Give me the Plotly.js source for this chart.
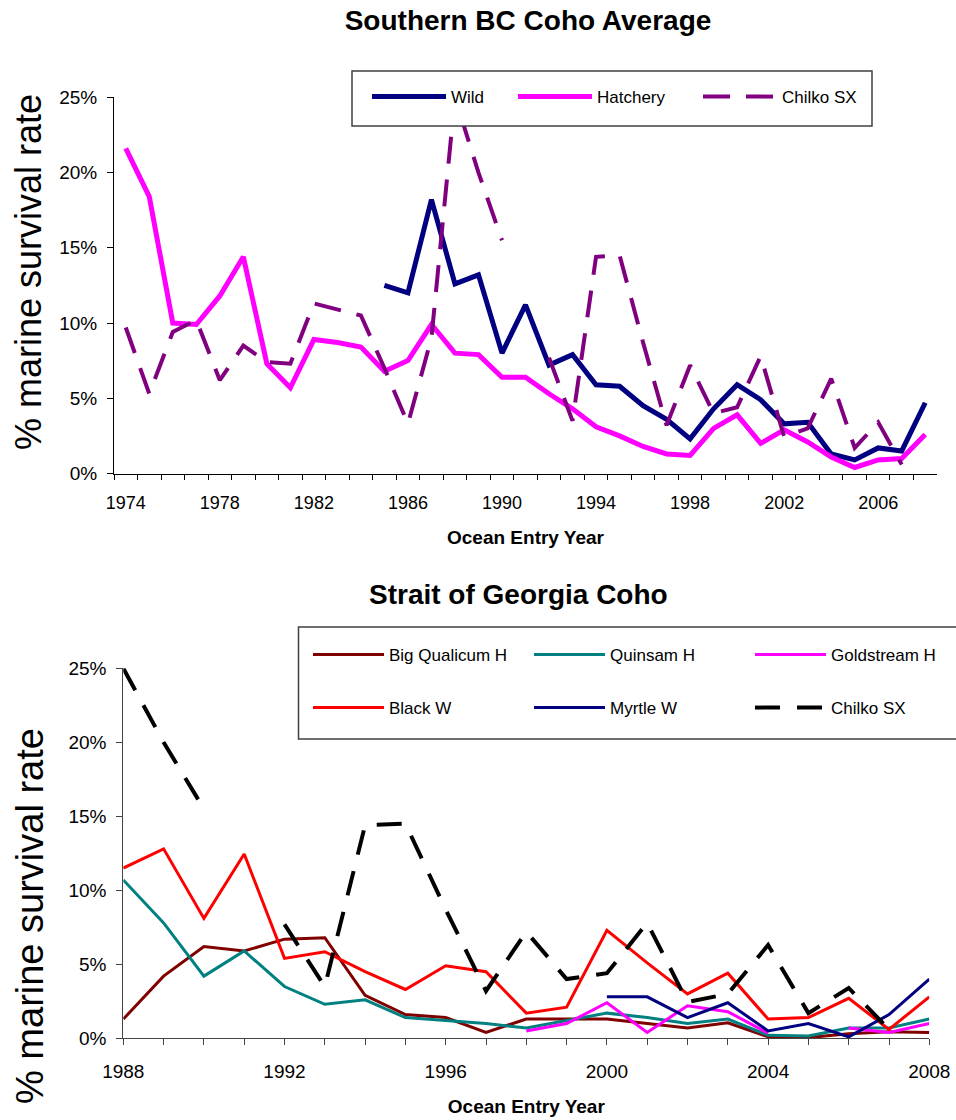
<!DOCTYPE html>
<html>
<head>
<meta charset="utf-8">
<script src="https://cdn.plot.ly/plotly-3.0.1.min.js"></script>
<style>
html, body { margin: 0; padding: 0; background: #ffffff; }
#chart { width: 956px; height: 1120px; }
</style>
</head>
<body>
<div id="chart"></div>
<script>
// ---------- Data: Southern BC Coho Average ----------
const yearsTop = [1974, 1975, 1976, 1977, 1978, 1979, 1980, 1981, 1982, 1983, 1984,
  1985, 1986, 1987, 1988, 1989, 1990, 1991, 1992, 1993, 1994, 1995, 1996, 1997,
  1998, 1999, 2000, 2001, 2002, 2003, 2004, 2005, 2006, 2007, 2008];
const wild = [null, null, null, null, null, null, null, null, null, null, null,
  12.5, 12.0, 18.2, 12.6, 13.2, 8.0, 11.2, 7.2, 7.9, 5.9, 5.8, 4.5, 3.6,
  2.3, 4.3, 5.9, 4.9, 3.3, 3.4, 1.3, 0.9, 1.7, 1.5, 4.7];
const hatchery = [21.6, 18.4, 10.0, 9.9, 11.8, 14.4, 7.3, 5.7, 8.9, 8.7, 8.4,
  6.8, 7.5, 9.9, 8.0, 7.9, 6.4, 6.4, 5.3, 4.3, 3.1, 2.5, 1.8, 1.3,
  1.2, 3.0, 3.9, 2.0, 2.9, 2.1, 1.1, 0.4, 0.9, 1.0, 2.6];
const chilkoSX = [9.7, 5.3, 9.4, 10.2, 6.2, 8.5, 7.4, 7.3, 11.3, 10.9, 10.5,
  7.0, 3.3, 9.0, 25.0, 20.0, 15.5, null, 7.7, 3.5, 14.4, 14.5, 8.7, 3.2,
  7.2, 4.0, 4.4, 7.8, 2.45, 3.0, 6.3, 1.7, 3.4, 0.6, null];
const topTickYears = [1974, 1978, 1982, 1986, 1990, 1994, 1998, 2002, 2006];

// ---------- Data: Strait of Georgia Coho ----------
const yearsBottom = [1988, 1989, 1990, 1991, 1992, 1993, 1994, 1995, 1996, 1997,
  1998, 1999, 2000, 2001, 2002, 2003, 2004, 2005, 2006, 2007, 2008];
const bigQualicumH = [1.3, 4.2, 6.2, 5.9, 6.7, 6.8, 2.9, 1.6, 1.4, 0.4,
  1.3, 1.3, 1.3, 1.0, 0.7, 1.05, 0.1, 0.05, 0.3, 0.45, 0.4];
const quinsamH = [10.7, 7.8, 4.2, 5.9, 3.5, 2.3, 2.6, 1.4, 1.2, 1.0,
  0.7, 1.2, 1.7, 1.4, 1.0, 1.3, 0.2, 0.15, 0.7, 0.7, 1.3];
const goldstreamH = [null, null, null, null, null, null, null, null, null, null,
  0.5, 1.0, 2.4, 0.4, 2.2, 1.8, 0.35, null, 0.7, 0.4, 1.0];
const blackW = [11.5, 12.8, 8.1, 12.45, 5.4, 5.85, 4.5, 3.3, 4.9, 4.5,
  1.7, 2.1, 7.3, 5.1, 3.0, 4.4, 1.3, 1.4, 2.7, 0.6, 2.8];
const myrtleW = [null, null, null, null, null, null, null, null, null, null,
  null, null, 2.8, 2.8, 1.4, 2.4, 0.5, 1.0, 0.1, 1.6, 4.0];
const chilkoSXBottom = [25.0, 20.0, 15.5, null, 7.7, 3.5, 14.4, 14.5, 8.7, 3.2,
  7.2, 4.0, 4.4, 7.8, 2.45, 3.0, 6.3, 1.7, 3.4, 0.6, null];
const bottomTickYears = [1988, 1992, 1996, 2000, 2004, 2008];
const pctTicks = [0, 5, 10, 15, 20, 25];

// ---------- Layout helpers (pixel -> paper) ----------
const W = 956, H = 1120;
const px = v => v / W;
const py = v => 1 - v / H;
const FONT = 'Liberation Sans, Arial, Helvetica, sans-serif';

// Top axis is a category axis (Excel style: ticks between categories)
const topCats = yearsTop.map(String);
const topCatText = yearsTop.map(y => topTickYears.includes(y) ? String(y) : '');

const traces = [
  { x: topCats, y: wild, name: 'Wild', type: 'scatter', mode: 'lines',
    xaxis: 'x', yaxis: 'y', legend: 'legend', legendwidth: 57,
    line: { color: '#000080', width: 5 } },
  { x: topCats, y: hatchery, name: 'Hatchery', type: 'scatter', mode: 'lines',
    xaxis: 'x', yaxis: 'y', legend: 'legend', legendwidth: 96,
    line: { color: '#FF00FF', width: 5 } },
  { x: topCats, y: chilkoSX, name: 'Chilko SX', type: 'scatter', mode: 'lines',
    xaxis: 'x', yaxis: 'y', legend: 'legend', legendwidth: 80,
    line: { color: '#800080', width: 4, dash: '27px,16px' } },

  { x: yearsBottom, y: bigQualicumH, name: 'Big Qualicum H', type: 'scatter', mode: 'lines',
    xaxis: 'x2', yaxis: 'y2', legend: 'legend2',
    line: { color: '#800000', width: 3 } },
  { x: yearsBottom, y: quinsamH, name: 'Quinsam H', type: 'scatter', mode: 'lines',
    xaxis: 'x2', yaxis: 'y2', legend: 'legend2',
    line: { color: '#008080', width: 3 } },
  { x: yearsBottom, y: goldstreamH, name: 'Goldstream H', type: 'scatter', mode: 'lines',
    xaxis: 'x2', yaxis: 'y2', legend: 'legend2', legendwidth: 105,
    line: { color: '#FF00FF', width: 3 } },
  { x: yearsBottom, y: blackW, name: 'Black W', type: 'scatter', mode: 'lines',
    xaxis: 'x2', yaxis: 'y2', legend: 'legend3',
    line: { color: '#FF0000', width: 3 } },
  { x: yearsBottom, y: myrtleW, name: 'Myrtle W', type: 'scatter', mode: 'lines',
    xaxis: 'x2', yaxis: 'y2', legend: 'legend3',
    line: { color: '#000080', width: 3 } },
  { x: yearsBottom, y: chilkoSXBottom, name: 'Chilko SX', type: 'scatter', mode: 'lines',
    xaxis: 'x2', yaxis: 'y2', legend: 'legend3', legendwidth: 105,
    line: { color: '#000000', width: 4, dash: '25px,17px' } }
];

const yAxisCommon = {
  range: [0, 25], tickmode: 'array', tickvals: pctTicks,
  ticktext: pctTicks.map(v => v + '%'),
  ticks: 'outside', ticklen: 6, tickwidth: 1,
  showline: true, linewidth: 1, showgrid: false, zeroline: false,
  tickfont: { family: FONT, size: 19, color: '#000' }, ticklabelstandoff: 6
};

const legendCommon = {
  orientation: 'h', xanchor: 'left', yanchor: 'middle',
  bgcolor: 'rgba(0,0,0,0)', borderwidth: 0, traceorder: 'normal',
  font: { family: FONT, size: 17, color: '#000' }
};

const layout = {
  width: W, height: H,
  margin: { l: 0, r: 0, t: 0, b: 0, autoexpand: false },
  paper_bgcolor: '#ffffff', plot_bgcolor: 'rgba(0,0,0,0)',
  font: { family: FONT, color: '#000' },
  showlegend: true, hovermode: false,
  title: {
    text: '<b>Southern BC Coho Average</b>',
    font: { family: FONT, size: 28, color: '#000' },
    x: px(528), xanchor: 'center', xref: 'paper',
    y: py(20), yanchor: 'middle', yref: 'container'
  },
  xaxis: {
    type: 'category', categoryorder: 'array', categoryarray: topCats,
    domain: [px(114), px(937)], anchor: 'y', range: [-0.5, topCats.length - 0.5],
    tickmode: 'array', tickvals: topCats, ticktext: topCatText,
    tickson: 'boundaries', tickangle: 0,
    ticks: 'outside', ticklen: 5, tickwidth: 1, tickcolor: '#000',
    showline: true, linecolor: '#000', linewidth: 1,
    showgrid: false, zeroline: false,
    tickfont: { family: FONT, size: 18, color: '#000' }, ticklabelstandoff: 13,
    title: { text: '<b>Ocean Entry Year</b>', font: { family: FONT, size: 19, color: '#000' }, standoff: 18 }
  },
  yaxis: Object.assign({}, yAxisCommon, {
    domain: [py(473.5), py(97.3)], anchor: 'x',
    linecolor: '#000', tickcolor: '#000'
  }),
  xaxis2: {
    domain: [px(123.3), px(929.3)], anchor: 'y2', range: [1988, 2008],
    tickmode: 'array', tickvals: bottomTickYears, ticktext: bottomTickYears.map(String),
    tickangle: 0,
    ticks: 'outside', ticklen: 6, tickwidth: 1, tickcolor: '#444',
    showline: true, linecolor: '#444', linewidth: 1,
    showgrid: false, zeroline: false,
    tickfont: { family: FONT, size: 19, color: '#000' }, ticklabelstandoff: 10,
    minor: { tickmode: 'linear', tick0: 1988, dtick: 1, ticks: 'outside',
             ticklen: 6, tickwidth: 1, tickcolor: '#444', showgrid: false },
    title: { text: '<b>Ocean Entry Year</b>', font: { family: FONT, size: 19, color: '#000' }, standoff: 18 }
  },
  yaxis2: Object.assign({}, yAxisCommon, {
    domain: [py(1038.3), py(668.3)], anchor: 'x2',
    linecolor: '#444', tickcolor: '#444'
  }),
  legend: Object.assign({}, legendCommon, {
    x: px(367), y: py(97), itemwidth: 74
  }),
  legend2: Object.assign({}, legendCommon, {
    x: px(308), y: py(655), itemwidth: 71, entrywidth: 135
  }),
  legend3: Object.assign({}, legendCommon, {
    x: px(308), y: py(708), itemwidth: 71, entrywidth: 135
  }),
  shapes: [
    { type: 'rect', xref: 'paper', yref: 'paper', layer: 'above',
      x0: px(352), x1: px(872), y0: py(126), y1: py(71),
      line: { color: '#404040', width: 1.5 }, fillcolor: '#ffffff' },
    { type: 'rect', xref: 'paper', yref: 'paper', layer: 'above',
      x0: px(298.5), x1: px(962), y0: py(739), y1: py(627),
      line: { color: '#404040', width: 1.5 }, fillcolor: '#ffffff' }
  ],
  annotations: [
    { text: '<b>Strait of Georgia Coho</b>', xref: 'paper', yref: 'paper',
      x: px(518), y: py(594), xanchor: 'center', yanchor: 'middle', showarrow: false,
      font: { family: FONT, size: 28, color: '#000' } },
    { text: '% marine survival rate', xref: 'paper', yref: 'paper', textangle: -90,
      x: px(28), y: py(272), xanchor: 'center', yanchor: 'middle', showarrow: false,
      font: { family: FONT, size: 36, color: '#000' } },
    { text: '% marine survival rate', xref: 'paper', yref: 'paper', textangle: -90,
      x: px(30), y: py(916), xanchor: 'center', yanchor: 'middle', showarrow: false,
      font: { family: FONT, size: 38, color: '#000' } }
  ]
};

Plotly.newPlot('chart', traces, layout, { displayModeBar: false, staticPlot: true });
</script>
</body>
</html>
